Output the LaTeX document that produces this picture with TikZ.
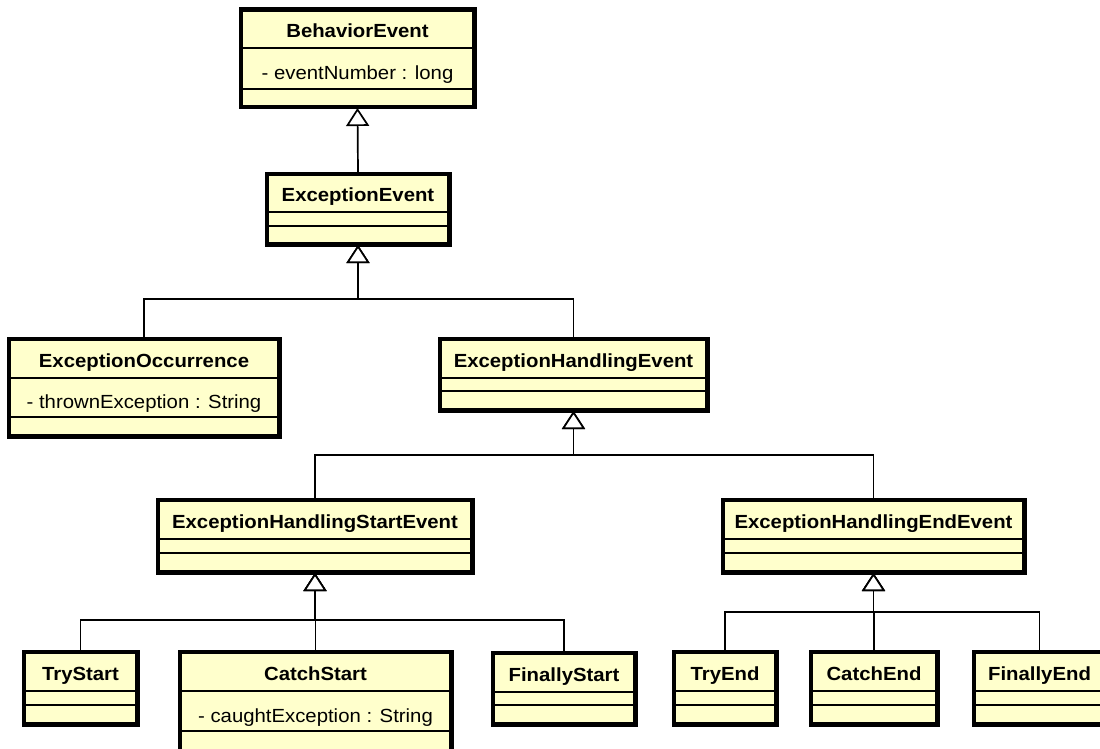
\documentclass[tikz,border=0pt]{standalone}
\usepackage{fontspec}
\setmainfont{Liberation Sans}[FakeStretch=1.07]
\usetikzlibrary{arrows.meta}

\definecolor{classfill}{HTML}{FFFFCC}

\tikzset{
  umlclass/.style={draw=black, line width=3pt, fill=classfill, rectangle, inner sep=0pt},
  sepline/.style={draw=black, line width=1.5pt},
  titletext/.style={font=\fontsize{19}{22}\selectfont\bfseries, inner sep=0pt, anchor=base},
  attrtext/.style={font=\fontsize{19}{22}\selectfont, inner sep=0pt, anchor=base},
  gen/.style={draw=black, line width=1.7pt,
    -{Triangle[fill=white, length=18pt, width=23pt, line width=1.7pt]}}
}

% #1 name, #2 left, #3 top, #4 right, #5 bottom,
% #6 line under the title, #7 line under the attributes, #8 title, #9 attribute
\newcommand\umlclassbox[9]{%
  \node[umlclass, minimum width={#4pt-#2pt-3pt}, minimum height={#5pt-#3pt-3pt}]
    (#1) at ({(#2+#4)/2},{(#3+#5)/2}) {};
  \draw[sepline] (#2,#6) -- (#4,#6);
  \draw[sepline] (#2,#7) -- (#4,#7);
  \draw[umlclass, fill=none] (#1.north west) rectangle (#1.south east);
  \node[titletext] (#1-title) at ({(#2+#4)/2},{#6-10.5}) {#8};
  \if\relax\detokenize{#9}\relax\else
    \node[attrtext] (#1-attr) at ({(#2+#4)/2},{(#6+#7)/2+11}) {#9};
  \fi
}

\begin{document}
\begin{tikzpicture}[x=1pt, y=-1pt]
  \useasboundingbox (0,0) rectangle (1100,749);
  \fill[white] (0,0) rectangle (1100,749);

  % classes
  \umlclassbox{be}{240}{9}{475}{108}{48}{89}{BehaviorEvent}{- eventNumber : long}
  \umlclassbox{ee}{266}{173}{450}{245}{212}{226}{ExceptionEvent}{}
  \umlclassbox{eo}{8}{338}{280}{437}{378}{417}{ExceptionOccurrence}{- thrownException : String}
  \umlclassbox{ehe}{439}{338}{708}{411}{378}{391}{ExceptionHandlingEvent}{}
  \umlclassbox{hs}{157}{499}{473}{573}{539}{553}{ExceptionHandlingStartEvent}{}
  \umlclassbox{hend}{722}{499}{1025}{573}{539}{553}{ExceptionHandlingEndEvent}{}
  \umlclassbox{ts}{23}{651}{138}{725}{691}{705}{TryStart}{}
  \umlclassbox{cs}{179}{651}{452}{752}{691}{731}{CatchStart}{- caughtException : String}
  \umlclassbox{fs}{492}{652}{636}{725}{692}{705}{FinallyStart}{}
  \umlclassbox{te}{673}{651}{777}{725}{691}{705}{TryEnd}{}
  \umlclassbox{ce}{810}{651}{938}{725}{691}{705}{CatchEnd}{}
  \umlclassbox{fe}{973}{651}{1106}{725}{691}{705}{FinallyEnd}{}

  % joints where the generalizations meet
  \coordinate (bus1) at (ee.south |- 0,299);
  \coordinate (bus2) at (ehe.south |- 0,455);
  \coordinate (bus3) at (hs.south |- 0,620);
  \coordinate (bus4) at (hend.south |- 0,612);

  % generalizations
  \draw[gen] (ee.north) -- (be.south);

  \draw[gen] (eo.north) |- (bus1) -- (ee.south);
  \draw[gen] (ehe.north) |- (bus1) -- (ee.south);

  \draw[gen] (hs.north) |- (bus2) -- (ehe.south);
  \draw[gen] (hend.north) |- (bus2) -- (ehe.south);

  \draw[gen] (ts.north) |- (bus3) -- (hs.south);
  \draw[gen] (cs.north) |- (bus3) -- (hs.south);
  \draw[gen] (fs.north) |- (bus3) -- (hs.south);

  \draw[gen] (te.north) |- (bus4) -- (hend.south);
  \draw[gen] (ce.north) |- (bus4) -- (hend.south);
  \draw[gen] (fe.north) |- (bus4) -- (hend.south);
\end{tikzpicture}
\end{document}
